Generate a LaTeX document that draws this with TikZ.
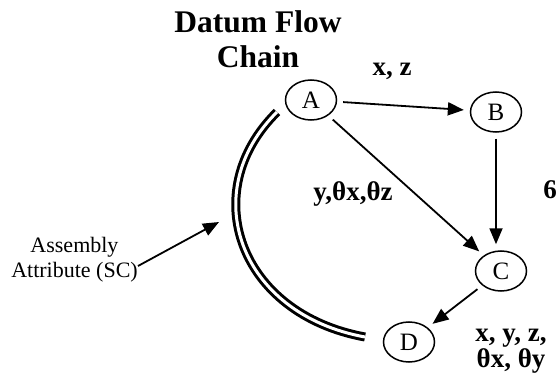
\documentclass[tikz,border=0pt]{standalone}
\usepackage{fontspec}
\setmainfont{Liberation Serif}
\usetikzlibrary{arrows.meta,shapes.geometric}
\begin{document}
\begin{tikzpicture}[x=1pt,y=-1pt,
  dnode/.style={ellipse,draw,line width=1.5pt,minimum width=51pt,minimum height=40pt,inner sep=0pt,font=\fontsize{25}{25}\selectfont},
  arr/.style={line width=1.8pt,-{Triangle[length=16pt,width=13pt]},shorten >=6pt,shorten <=6pt},
  lbl/.style={font=\bfseries\fontsize{27}{21}\selectfont,align=center,inner sep=0pt},
  dbl/.style={line width=3pt,double,double distance=3pt}]
\useasboundingbox (0,0) rectangle (557,385);
\node[font=\bfseries\fontsize{31.5}{35}\selectfont,align=center,inner sep=0pt] (title) at (258,39) {Datum Flow\\Chain};
\node[dnode] (A) at (311,100) {A};
\node[dnode] (B) at (496,112) {B};
\node[dnode] (C) at (501,271) {C};
\node[dnode] (D) at (409,342) {D};
\draw[arr] (A) -- (B);
\draw[arr] (A) -- (C);
\draw[arr] (B) -- (B |- C.north);
\draw[arr] (C) -- (D);
\node[lbl] (lxz) at (392,71) {x, z};
\node[lbl] (lyt) at (353,194) {y,θx,θz};
\node[lbl] (l6) at (550,190) {6};
\node[lbl] (lxyz) at (511,351) {x, y, z,\\θx, θy};
\node[font=\fontsize{22}{25}\selectfont,align=center,inner sep=0pt] (asm) at (74.5,260) {Assembly\\Attribute (SC)};
\coordinate (arcTop) at (277,112);
\coordinate (arcBot) at (365,337);
\draw[dbl] (arcTop) .. controls (196,192) and (239,314) .. (arcBot);
\coordinate (asmStart) at (138,266);
\coordinate (asmTip) at (219,222);
\draw[line width=1.8pt,-{Triangle[length=16pt,width=13pt]}] (asmStart) -- (asmTip);
\end{tikzpicture}
\end{document}
